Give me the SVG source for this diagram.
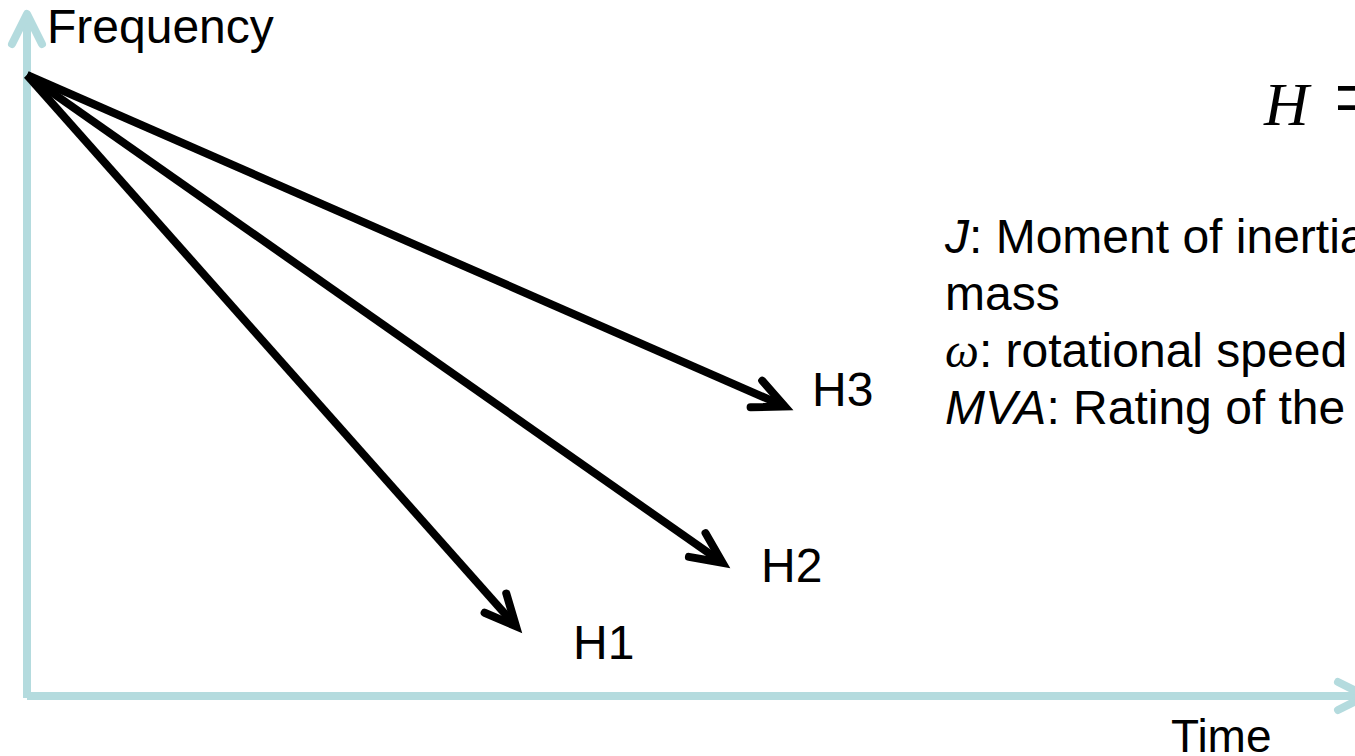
<svg xmlns="http://www.w3.org/2000/svg" width="1355" height="756" viewBox="0 0 1355 756">
  <style>
    .axis { stroke: #B4DBDE; stroke-width: 8; fill: none; }
    .axis-head { stroke: #B4DBDE; stroke-width: 8; fill: none; stroke-linecap: round; stroke-linejoin: round; }
    .ray { stroke: #000; stroke-width: 8; fill: none; stroke-linecap: butt; }
    .lbl { font-family: "Liberation Sans", Arial, sans-serif; font-size: 48px; fill: #000; }
    .math { font-family: "Liberation Serif", "Times New Roman", serif; font-style: italic; }
  </style>
  <defs>
    <marker id="head" markerUnits="userSpaceOnUse" orient="auto" refX="0" refY="0"
            viewBox="-40 -25 50 50" markerWidth="50" markerHeight="50" overflow="visible">
      <path d="M-31,-14.5 L0,0 L-31,14.5" stroke="#000" stroke-width="8" fill="none"
            stroke-linecap="round" stroke-linejoin="miter"/>
    </marker>
  </defs>

  <rect width="1355" height="756" fill="#fff"/>

  <!-- axes -->
  <g id="axes">
    <line class="axis" x1="27" y1="698" x2="27" y2="16"/>
    <polyline class="axis-head" points="12,44 27,14 42,44"/>
    <line class="axis" x1="27" y1="696" x2="1362" y2="696"/>
    <polyline class="axis-head" points="1338,682 1366,696 1338,710"/>
  </g>

  <!-- frequency decay rays -->
  <g id="connectors">
    <line class="ray" x1="27" y1="75" x2="516" y2="626.3" marker-end="url(#head)"/>
    <line class="ray" x1="27" y1="75" x2="722.6" y2="562.8" marker-end="url(#head)"/>
    <line class="ray" x1="27" y1="75" x2="784.8" y2="406.4" marker-end="url(#head)"/>
  </g>

  <g id="label-frequency"><text class="lbl" x="47" y="43" font-size="48.5">Frequency</text></g>
  <g id="label-time"><text class="lbl" x="1171" y="752" style="font-size:46px">Time</text></g>
  <g id="node-h1"><text class="lbl" x="573" y="659">H1</text></g>
  <g id="node-h2"><text class="lbl" x="761" y="582">H2</text></g>
  <g id="node-h3"><text class="lbl" x="812" y="406">H3</text></g>

  <!-- inertia constant definition -->
  <g id="formula">
    <text x="1264" y="125" font-family="'Liberation Serif', 'Times New Roman', serif" font-size="62" font-style="italic">H</text>
    <text transform="translate(1335,130) scale(1,1.6)" font-family="'Liberation Serif', 'Times New Roman', serif" font-size="60">=</text>
  </g>

  <g id="legend">
    <text class="lbl" x="945" y="253"><tspan font-style="italic">J</tspan>: Moment of inertia</text>
    <text class="lbl" x="945" y="310">mass</text>
    <text class="lbl" x="945" y="367"><tspan class="math">ω</tspan>: rotational speed</text>
    <text class="lbl" x="945" y="424"><tspan font-style="italic">MVA</tspan>: Rating of the</text>
  </g>
</svg>
